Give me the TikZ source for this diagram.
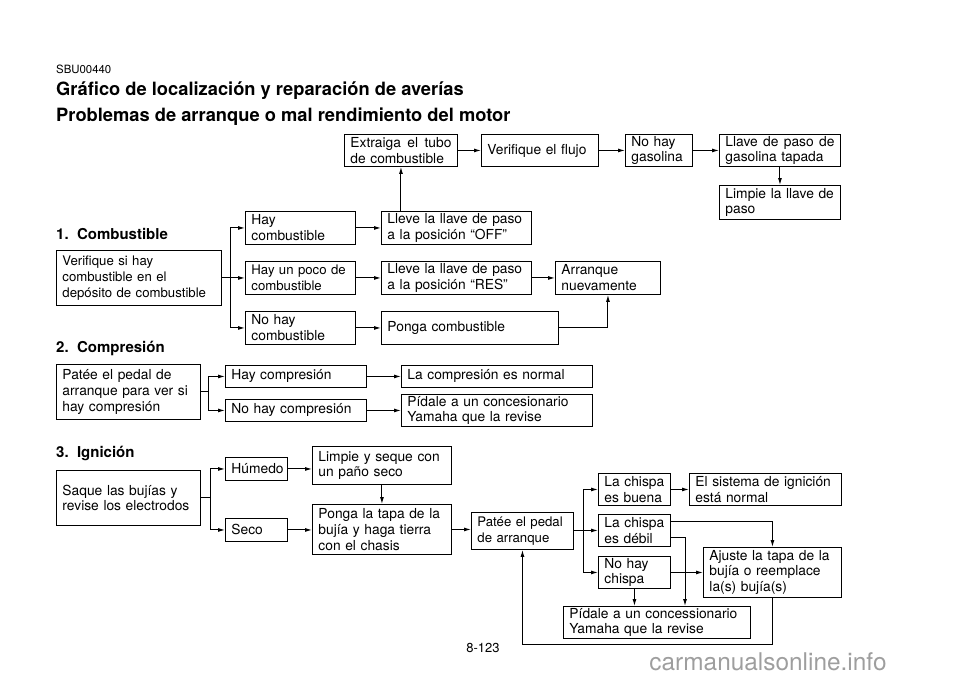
\documentclass[tikz,border=0pt]{standalone}
\usepackage{fontspec}
\setmainfont{TeX Gyre Heros}
\usetikzlibrary{arrows.meta}

\tikzset{
  flow/.style 2 args={draw, line width=0.9pt, anchor=north west, inner xsep=6pt, inner ysep=0pt,
    text width=#1, minimum height=#2, align=left, font=\fontsize{13.8}{15.8}\selectfont},
  smaller/.style={font=\fontsize{13.2}{16}\selectfont},
  wire/.style={line width=1pt},
  link/.style={line width=1pt, -{Latex[length=7pt,width=4pt]}},
  heading/.style={anchor=west, inner sep=0pt, font=\bfseries\fontsize{15}{17}\selectfont},
}

\begin{document}
\begin{tikzpicture}[x=1pt, y=-1pt]
\useasboundingbox (0,0) rectangle (960,678);

% titles
\node[anchor=west, inner sep=0pt, font=\fontsize{11.4}{13}\selectfont] (code) at (56,69) {SBU00440};
\node[anchor=west, inner sep=0pt, font=\bfseries\fontsize{18.3}{21}\selectfont] (title) at (56,91) {Gráfico de localización y reparación de averías};
\node[anchor=west, inner sep=0pt, font=\bfseries\fontsize{18.3}{21}\selectfont] (subtitle) at (56,117) {Problemas de arranque o mal rendimiento del motor};

% 1. Combustible
\node[heading] (h1) at (56,234) {1.\ \ Combustible};
\node[flow={101pt}{32pt}] (extr) at (344,134) {Extraiga\hfill el\hfill tubo\\de combustible};
\node[flow={105pt}{32pt}] (flujo) at (481,134) {Verifique el flujo};
\node[flow={55pt}{32pt}] (nogas) at (625,134) {No hay\\gasolina};
\node[flow={109pt}{32pt}] (tapada) at (719,134) {Llave\hfill de\hfill paso\hfill de\\gasolina tapada};
\node[flow={109pt}{34pt}] (limpll) at (719,185) {Limpie la llave de\\paso};
\node[flow={153pt}{55pt}, smaller] (verif) at (56,250) {Verifique si hay\\combustible en el\\depósito de combustible};
\node[flow={98pt}{33pt}] (haycomb) at (245,211) {Hay\\combustible};
\node[flow={138pt}{33pt}] (off) at (381,211) {Lleve la llave de paso\\a la posición “OFF”};
\node[flow={98pt}{33pt}, smaller] (poco) at (245,261) {Hay un poco de\\combustible};
\node[flow={138pt}{33pt}] (res) at (381,261) {Lleve la llave de paso\\a la posición “RES”};
\node[flow={93pt}{33pt}] (arranq) at (555,261) {Arranque\\nuevamente};
\node[flow={98pt}{33pt}] (nocomb) at (245,311) {No hay\\combustible};
\node[flow={165pt}{33pt}] (ponga) at (381,311) {Ponga combustible};

\coordinate (b1) at (230,0);
\draw[wire] (verif.east) -- (verif.east -| b1);
\draw[wire] (haycomb.west -| b1) -- (nocomb.west -| b1);
\foreach \n in {haycomb,poco,nocomb}
  \draw[link] (\n.west -| b1) -- (\n.west);
\draw[link] (haycomb) -- (off);
\draw[link] (poco) -- (res);
\draw[link] (res) -- (arranq);
\draw[link] (nocomb) -- (ponga);
\draw[link] (ponga.east) -| (arranq.south);
\draw[link] (off.north -| extr.south) -- (extr.south);
\draw[link] (extr) -- (flujo);
\draw[link] (flujo) -- (nogas);
\draw[link] (nogas) -- (tapada);
\draw[link] (tapada) -- (limpll);

% 2. Compresion
\node[heading] (h2) at (56,348) {2.\ \ Compresión};
\node[flow={132pt}{55pt}] (patee) at (56,364) {Patée el pedal de\\arranque para ver si\\hay compresión};
\node[flow={129pt}{22pt}] (haycomp) at (225,365) {Hay compresión};
\node[flow={129pt}{22pt}] (nocomp) at (225,399) {No hay compresión};
\node[flow={179pt}{22pt}] (normal) at (401,365) {La compresión es normal};
\node[flow={179pt}{32pt}] (pidale1) at (401,394) {Pídale a un concesionario\\Yamaha que la revise};

\coordinate (b2) at (208,0);
\draw[wire] (patee.east) -- (patee.east -| b2);
\draw[wire] (haycomp.west -| b2) -- (nocomp.west -| b2);
\foreach \n in {haycomp,nocomp}
  \draw[link] (\n.west -| b2) -- (\n.west);
\draw[link] (haycomp) -- (normal);
\draw[link] (nocomp.east) -- (nocomp.east -| pidale1.west);

% 3. Ignicion
\node[heading] (h3) at (56,453) {3.\ \ Ignición};
\node[flow={132pt}{55pt}] (saque) at (56,470) {Saque las bujías y\\revise los electrodos};
\node[flow={50pt}{23pt}] (humedo) at (225,457) {Húmedo};
\node[flow={50pt}{23pt}] (seco) at (225,518) {Seco};
\node[flow={127pt}{38pt}] (limpseq) at (312,446) {Limpie y seque con\\un paño seco};
\node[flow={127pt}{50pt}] (tapa) at (312,504) {Ponga la tapa de la\\bujía y haga tierra\\con el chasis};
\node[flow={90pt}{37pt}, smaller] (pedal) at (471,512) {Patée el pedal\\de arranque};
\node[flow={60pt}{32pt}] (buena) at (598,473) {La chispa\\es buena};
\node[flow={140pt}{32pt}] (sistema) at (689,473) {El sistema de ignición\\está normal};
\node[flow={60pt}{32pt}] (debil) at (598,514) {La chispa\\es débil};
\node[flow={60pt}{32pt}] (nochispa) at (598,556) {No hay\\chispa};
\node[flow={126pt}{50pt}] (ajuste) at (703,547) {Ajuste la tapa de la\\bujía o reemplace\\la(s) bujía(s)};
\node[flow={175pt}{32pt}] (pidale2) at (563,606) {Pídale a un concessionario\\Yamaha que la revise};

\coordinate (b3) at (210,0);
\draw[wire] (saque.east) -- (saque.east -| b3);
\draw[wire] (humedo.west -| b3) -- (seco.west -| b3);
\foreach \n in {humedo,seco}
  \draw[link] (\n.west -| b3) -- (\n.west);
\draw[link] (humedo.east) -- (humedo.east -| limpseq.west);
\draw[link] (seco.east) -- (seco.east -| tapa.west);
\draw[link] (limpseq) -- (tapa);
\draw[link] (tapa.east) -- (tapa.east -| pedal.west);

\coordinate (b4) at (583,0);
\draw[wire] (pedal.east) -- (pedal.east -| b4);
\draw[wire] (buena.west -| b4) -- (nochispa.west -| b4);
\foreach \n in {buena,debil,nochispa}
  \draw[link] (\n.west -| b4) -- (\n.west);
\draw[link] (buena) -- (sistema);
\draw[link] ([yshift=9pt]debil.east) -| (ajuste.north);
\coordinate (drop) at (685,0);
\draw[link] ([yshift=-7pt]debil.east) -| (drop |- pidale2.north);
\draw[link] (nochispa) -- (ajuste);
\draw[link] (nochispa.south) -- (nochispa.south |- pidale2.north);
\coordinate (loop) at (0,644);
\draw[link] (ajuste.south) -- (ajuste.south |- loop) -| (pedal.south);

% page footer
\node[font=\fontsize{13}{15}\selectfont, inner sep=0pt] (page) at (483,648) {8-123};
\node[font=\fontsize{24.4}{28}\selectfont, text=black!38, inner sep=0pt] (mark) at (768,662) {carmanualsonline.info};
\end{tikzpicture}
\end{document}
